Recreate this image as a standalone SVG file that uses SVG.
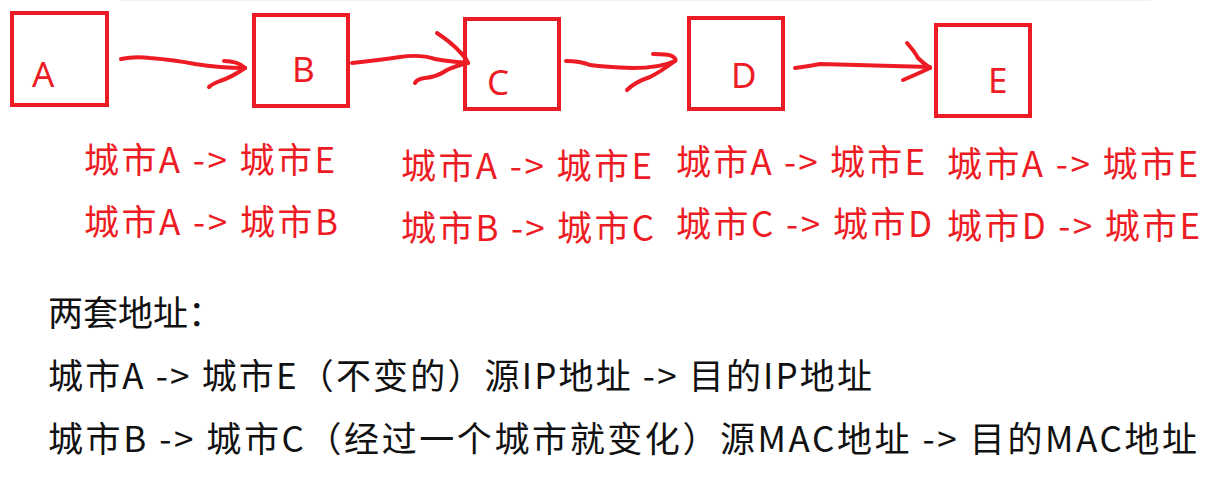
<svg xmlns="http://www.w3.org/2000/svg" width="1217" height="485" viewBox="0 0 1217 485">
<style>
.box{fill:none;stroke:#ED1C24;stroke-width:4}
.lbl{font-family:"Noto Sans","Noto Sans CJK SC",sans-serif;font-size:35px;fill:#ED1C24}
.red{font-family:"Noto Sans CJK SC",sans-serif;font-size:35px;fill:#ED1C24}
.blk{font-family:"Noto Sans CJK SC",sans-serif;font-size:35px;fill:#111}
.arr{fill:none;stroke:#ED1C24;stroke-width:4;stroke-linecap:round;stroke-linejoin:round}
</style>
<rect width="1217" height="485" fill="#fff"/>
<line x1="120" y1="0.5" x2="1150" y2="0.5" stroke="#f2f2f2" stroke-width="1"/>
<g id="node-A"><rect class="box" x="12" y="13" width="95" height="92"/><text class="lbl" x="32" y="87">A</text></g>
<g id="node-B"><rect class="box" x="254" y="15" width="94" height="91"/><text class="lbl" x="292" y="82">B</text></g>
<g id="node-C"><rect class="box" x="465" y="19" width="94" height="90"/><text class="lbl" x="487" y="95">C</text></g>
<g id="node-D"><rect class="box" x="689" y="18" width="94" height="91"/><text class="lbl" x="731" y="88">D</text></g>
<g id="node-E"><rect class="box" x="936" y="25" width="94" height="91"/><text class="lbl" x="988" y="93">E</text></g>
<g id="connectors">
<path class="arr" d="M121,59 Q135,56 150,58 Q175,60 195,64 Q220,68 245,68"/>
<path class="arr" d="M224,61 Q238,61 245,68"/>
<path class="arr" d="M245,68 Q232,77 220,81 Q212,84 209,87"/>
<path class="arr" d="M352,63 Q380,60 400,57 Q420,54 435,59 Q445,61 468,63"/>
<path class="arr" d="M437,33 Q452,43 460,52 Q466,58 468,63"/>
<path class="arr" d="M468,63 Q455,66 447,70 Q437,77 425,78 Q417,79 415,83"/>
<path class="arr" d="M566,61 Q580,61 590,65 Q605,67 633,68 Q660,68 675,61"/>
<path class="arr" d="M653,54 Q668,54 672,56 Q677,59 675,61"/>
<path class="arr" d="M675,61 Q660,72 650,77 Q635,82 627,90"/>
<path class="arr" d="M795,68 Q810,66 820,64 L930,67"/>
<path class="arr" d="M907,43 Q915,52 918,58 Q923,63 930,68"/>
<path class="arr" d="M930,68 Q915,75 903,80"/>
</g>
<g id="labels-red">
<text class="red" x="84" y="173" textLength="251" lengthAdjust="spacing">城市A -&gt; 城市E</text>
<text class="red" x="84" y="235" textLength="254" lengthAdjust="spacing">城市A -&gt; 城市B</text>
<text class="red" x="401" y="179" textLength="251" lengthAdjust="spacing">城市A -&gt; 城市E</text>
<text class="red" x="401" y="241" textLength="253" lengthAdjust="spacing">城市B -&gt; 城市C</text>
<text class="red" x="676" y="175" textLength="249" lengthAdjust="spacing">城市A -&gt; 城市E</text>
<text class="red" x="676" y="237" textLength="256" lengthAdjust="spacing">城市C -&gt; 城市D</text>
<text class="red" x="947" y="177" textLength="251" lengthAdjust="spacing">城市A -&gt; 城市E</text>
<text class="red" x="947" y="239" textLength="253" lengthAdjust="spacing">城市D -&gt; 城市E</text>
</g>
<g id="notes">
<text class="blk" x="48" y="326">两套地址：</text>
<text class="blk" x="48" y="389" textLength="824" lengthAdjust="spacing">城市A -&gt; 城市E（不变的）源IP地址 -&gt; 目的IP地址</text>
<text class="blk" x="48" y="452" textLength="1149" lengthAdjust="spacing">城市B -&gt; 城市C（经过一个城市就变化）源MAC地址 -&gt; 目的MAC地址</text>
</g>
</svg>
